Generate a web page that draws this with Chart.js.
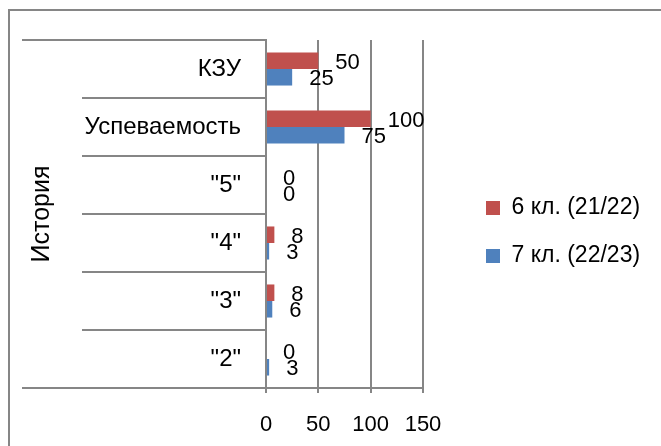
<!DOCTYPE html>
<html lang="ru">
<head>
<meta charset="UTF-8">
<script src="https://cdn.jsdelivr.net/npm/chart.js"></script>
<style>
  body { margin: 0; background: #fff; }
  #wrap { position: relative; width: 661px; height: 446px; overflow: hidden; }
  #frame { position: absolute; left: 8px; top: 9px; width: 700px; height: 500px;
           border-left: 2px solid #868686; border-top: 2px solid #868686; pointer-events: none; }
  canvas { position: absolute; left: 0; top: 0; }
</style>
</head>
<body>
<div id="wrap">
  <canvas id="myChart" width="661" height="446"></canvas>
  <div id="frame"></div>
</div>
<script>
  // data
  const categories = ['КЗУ', 'Успеваемость', '"5"', '"4"', '"3"', '"2"']
  const groupLabel = 'История'
  const seriesNames = ['6 кл. (21/22)', '7 кл. (22/23)']
  const class6 = [50, 100, 0, 8, 8, 0]
  const class7 = [25, 75, 0, 3, 6, 3]
  const xTicks = [0, 50, 100, 150]

  const grey = '#868686'
  const family = 'Liberation Sans, Arial, sans-serif'
  const font = { family: family, size: 22 }

  // value labels to the right of each bar end
  const valueLabels = {
    id: 'valueLabels',
    afterDatasetsDraw(chart) {
      const ctx = chart.ctx
      ctx.save()
      ctx.font = font.size + 'px ' + family
      ctx.fillStyle = '#000'
      ctx.textAlign = 'left'
      ctx.textBaseline = 'middle'
      chart.data.datasets.forEach((ds, i) => {
        chart.getDatasetMeta(i).data.forEach((bar, j) => {
          ctx.fillText(String(ds.data[j]), bar.x + 17, bar.y + 2)
        })
      })
      ctx.restore()
    }
  }

  // outer category lines (top and bottom) run further left, over the group label column
  const groupLines = {
    id: 'groupLines',
    afterDraw(chart) {
      const ctx = chart.ctx
      const y = chart.scales.y
      const area = chart.chartArea
      ctx.save()
      ctx.strokeStyle = grey
      ctx.lineWidth = 2
      ctx.beginPath()
      ;[area.top, area.bottom].forEach(py => {
        ctx.moveTo(y.left, py)
        ctx.lineTo(area.left, py)
      })
      ctx.stroke()
      ctx.restore()
    }
  }

  // the default layout caps the legend at a quarter of the width; give it more room
  const legendBox = {
    id: 'legendBox',
    afterInit(chart) {
      const lg = chart.legend
      const fit = lg.fit
      lg.fit = function () { fit.call(this); this.width = 233 }
    },
    afterLayout(chart) {
      const lg = chart.legend
      lg.left += 38; lg.right += 38
      lg.top -= 6; lg.bottom -= 6
    }
  }

  new Chart(document.getElementById('myChart'), {
    type: 'bar',
    data: {
      labels: categories,
      datasets: [
        { label: seriesNames[0], data: class6, backgroundColor: '#C0504D' },
        { label: seriesNames[1], data: class7, backgroundColor: '#4F81BD' }
      ]
    },
    options: {
      indexAxis: 'y',
      responsive: false,
      animation: false,
      layout: { padding: { left: 22, top: 40, right: 5, bottom: 10 } },
      datasets: { bar: { categoryPercentage: 0.57, barPercentage: 1 } },
      plugins: {
        legend: {
          position: 'right',
          labels: { boxWidth: 14, boxHeight: 14, padding: 25, color: '#000', font: { family: family, size: 23 } }
        },
        tooltip: { enabled: false }
      },
      scales: {
        x: {
          min: xTicks[0],
          max: xTicks[xTicks.length - 1],
          afterBuildTicks(scale) { scale.ticks = xTicks.map(v => ({ value: v })) },
          afterFit(scale) { scale.height = 48 },
          grid: { color: grey, lineWidth: 2, tickLength: 5, tickColor: grey },
          border: { color: grey, width: 2 },
          ticks: { color: '#000', font: font, padding: 19, maxRotation: 0 }
        },
        y: {
          afterFit(scale) { scale.width = 244 },
          grid: { drawOnChartArea: false, color: grey, lineWidth: 2, tickLength: 184 },
          border: { color: grey, width: 2 },
          ticks: { color: '#000', font: { family: family, size: 24 }, padding: -159 },
          title: { display: true, text: groupLabel, color: '#000', font: { family: family, size: 25 }, padding: { top: 5, bottom: 0 } }
        }
      }
    },
    plugins: [valueLabels, groupLines, legendBox]
  })
</script>
</body>
</html>
